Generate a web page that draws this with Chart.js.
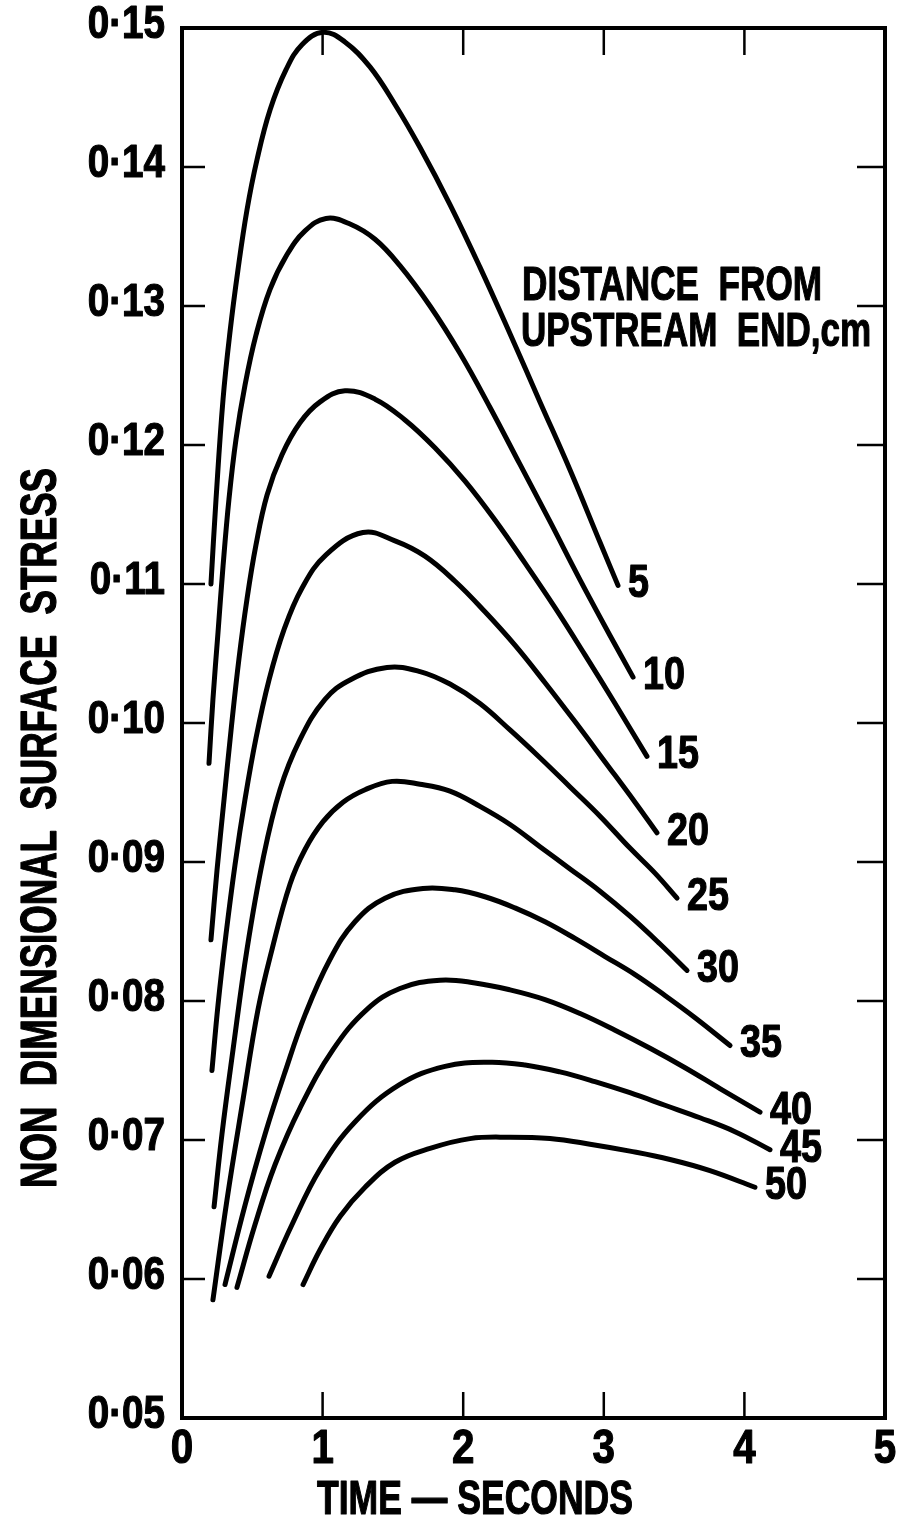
<!DOCTYPE html>
<html>
<head>
<meta charset="UTF-8">
<title>Non dimensional surface stress</title>
<script src="https://cdn.jsdelivr.net/npm/chart.js"></script>
<style>
  html, body { margin: 0; padding: 0; background: #fff; }
  .wrap { position: relative; width: 900px; height: 1520px; }
</style>
</head>
<body>
<div class="wrap"><canvas id="stressChart"></canvas></div>
<script>
// distance from upstream end, cm
const distances = ['5', '10', '15', '20', '25', '30', '35', '40', '45', '50'];

// time (s) and non dimensional surface stress
const time05 = [0.206, 0.242, 0.292, 0.341, 0.398, 0.462, 0.533, 0.626, 0.740, 0.853, 1.003, 1.159, 1.337, 1.515, 1.693, 1.906, 2.119, 2.333, 2.546, 2.760, 2.973, 3.101];
const stress05 = [0.1100, 0.1161, 0.1233, 0.1281, 0.1326, 0.1369, 0.1405, 0.1441, 0.1470, 0.1488, 0.1497, 0.1490, 0.1472, 0.1445, 0.1414, 0.1373, 0.1328, 0.1280, 0.1231, 0.1182, 0.1130, 0.1099];

const time10 = [0.192, 0.220, 0.256, 0.292, 0.334, 0.384, 0.448, 0.526, 0.626, 0.747, 0.875, 1.024, 1.195, 1.373, 1.550, 1.764, 1.977, 2.191, 2.404, 2.617, 2.831, 3.044, 3.208];
const stress10 = [0.0971, 0.1017, 0.1065, 0.1113, 0.1161, 0.1204, 0.1243, 0.1279, 0.1312, 0.1337, 0.1354, 0.1363, 0.1359, 0.1348, 0.1329, 0.1300, 0.1266, 0.1227, 0.1186, 0.1145, 0.1103, 0.1063, 0.1033];

const time15 = [0.206, 0.249, 0.299, 0.349, 0.405, 0.462, 0.526, 0.605, 0.711, 0.839, 0.982, 1.159, 1.373, 1.586, 1.799, 2.013, 2.226, 2.440, 2.653, 2.866, 3.080, 3.307];
const stress15 = [0.0844, 0.0894, 0.0945, 0.0995, 0.1046, 0.1089, 0.1128, 0.1164, 0.1193, 0.1216, 0.1231, 0.1239, 0.1233, 0.1218, 0.1198, 0.1174, 0.1146, 0.1115, 0.1083, 0.1049, 0.1014, 0.0976];

const time20 = [0.213, 0.256, 0.313, 0.377, 0.448, 0.526, 0.619, 0.725, 0.853, 1.024, 1.287, 1.515, 1.728, 1.942, 2.155, 2.368, 2.582, 2.795, 3.009, 3.222, 3.378];
const stress20 = [0.0750, 0.0797, 0.0848, 0.0898, 0.0945, 0.0989, 0.1031, 0.1067, 0.1097, 0.1121, 0.1137, 0.1131, 0.1120, 0.1102, 0.1080, 0.1056, 0.1029, 0.1001, 0.0972, 0.0943, 0.0921];

const time25 = [0.228, 0.284, 0.363, 0.462, 0.576, 0.697, 0.839, 1.017, 1.195, 1.458, 1.693, 1.906, 2.119, 2.333, 2.546, 2.760, 2.973, 3.186, 3.364, 3.521];
const stress25 = [0.0652, 0.0704, 0.0765, 0.0837, 0.0902, 0.0952, 0.0988, 0.1017, 0.1031, 0.1040, 0.1037, 0.1028, 0.1014, 0.0995, 0.0975, 0.0954, 0.0933, 0.0910, 0.0892, 0.0874];

const time30 = [0.220, 0.320, 0.434, 0.541, 0.640, 0.768, 0.875, 1.003, 1.145, 1.302, 1.494, 1.693, 1.906, 2.119, 2.333, 2.546, 2.760, 2.973, 3.186, 3.400, 3.592];
const stress30 = [0.0585, 0.0657, 0.0729, 0.0794, 0.0837, 0.0884, 0.0909, 0.0929, 0.0943, 0.0952, 0.0958, 0.0956, 0.0951, 0.0940, 0.0927, 0.0911, 0.0895, 0.0879, 0.0861, 0.0841, 0.0822];

const time35 = [0.306, 0.448, 0.590, 0.733, 0.875, 1.053, 1.230, 1.444, 1.714, 1.942, 2.155, 2.368, 2.582, 2.795, 3.009, 3.222, 3.435, 3.649, 3.898];
const stress35 = [0.0596, 0.0653, 0.0704, 0.0749, 0.0790, 0.0830, 0.0857, 0.0874, 0.0881, 0.0880, 0.0875, 0.0867, 0.0857, 0.0845, 0.0832, 0.0819, 0.0804, 0.0788, 0.0768];

const time40 = [0.391, 0.519, 0.661, 0.839, 1.074, 1.316, 1.550, 1.835, 2.084, 2.333, 2.582, 2.831, 3.080, 3.329, 3.578, 3.826, 4.111];
const stress40 = [0.0594, 0.0639, 0.0682, 0.0723, 0.0765, 0.0794, 0.0809, 0.0815, 0.0813, 0.0808, 0.0801, 0.0791, 0.0779, 0.0766, 0.0752, 0.0737, 0.0720];

const time45 = [0.619, 0.782, 0.982, 1.230, 1.550, 1.871, 2.191, 2.440, 2.688, 2.937, 3.186, 3.435, 3.684, 3.933, 4.182];
const stress45 = [0.0602, 0.0639, 0.0679, 0.0713, 0.0740, 0.0753, 0.0756, 0.0754, 0.0749, 0.0742, 0.0734, 0.0725, 0.0716, 0.0706, 0.0693];

const time50 = [0.861, 0.982, 1.124, 1.302, 1.515, 1.764, 2.048, 2.333, 2.617, 2.902, 3.186, 3.471, 3.755, 4.075];
const stress50 = [0.0596, 0.0621, 0.0645, 0.0666, 0.0684, 0.0694, 0.0701, 0.0702, 0.0701, 0.0697, 0.0692, 0.0686, 0.0678, 0.0666];

// axes
const xTicks = [0, 1, 2, 3, 4, 5];
const xTickLabels = ['0', '1', '2', '3', '4', '5'];
const yTicks = [0.05, 0.06, 0.07, 0.08, 0.09, 0.10, 0.11, 0.12, 0.13, 0.14, 0.15];
const yTickLabels = ['0·05', '0·06', '0·07', '0·08', '0·09', '0·10', '0·11', '0·12', '0·13', '0·14', '0·15'];

const times = [time05, time10, time15, time20, time25, time30, time35, time40, time45, time50];
const stresses = [stress05, stress10, stress15, stress20, stress25, stress30, stress35, stress40, stress45, stress50];

const LETTERING = '"Liberation Sans", Arial, sans-serif';

const datasets = distances.map((d, i) => ({
  label: d,
  data: times[i].map((t, k) => ({ x: t, y: stresses[i][k] })),
  showLine: true,
  borderColor: '#000',
  borderWidth: 5,
  borderCapStyle: 'round',
  borderJoinStyle: 'round',
  pointRadius: 0,
  tension: 0.4,
  fill: false
}));

// narrow stencil-like lettering: squeeze a bold face horizontally, thicken a little
function letter(ctx, text, x, y, align, squeeze, size) {
  ctx.save();
  ctx.font = 'bold ' + size + 'px ' + LETTERING;
  ctx.textAlign = align;
  ctx.textBaseline = 'alphabetic';
  ctx.translate(x, y);
  ctx.scale(squeeze, 1);
  ctx.lineWidth = 1.2;
  ctx.lineJoin = 'round';
  ctx.fillText(text, 0, 0);
  ctx.strokeText(text, 0, 0);
  ctx.restore();
}

function fitted(ctx, text, x, y, align, width, size) {
  ctx.save();
  ctx.font = 'bold ' + size + 'px ' + LETTERING;
  const w = ctx.measureText(text).width;
  ctx.restore();
  letter(ctx, text, x, y, align, width / w, size);
}

// frame with inward ticks, tick labels, curve labels, titles and note
const drawing = {
  id: 'drawing',
  afterDraw(chart) {
    const { ctx, chartArea: a, scales: { x, y } } = chart;
    ctx.save();
    ctx.strokeStyle = '#000';
    ctx.fillStyle = '#000';
    ctx.lineWidth = 4;
    ctx.strokeRect(a.left, a.top, a.right - a.left, a.bottom - a.top);

    ctx.lineWidth = 2.5;
    ctx.beginPath();
    yTicks.slice(1, -1).forEach(v => {
      const py = y.getPixelForValue(v);
      ctx.moveTo(a.left, py); ctx.lineTo(a.left + 23, py);
      ctx.moveTo(a.right, py); ctx.lineTo(a.right - 28, py);
    });
    xTicks.slice(1, -1).forEach(v => {
      const px = x.getPixelForValue(v);
      ctx.moveTo(px, a.bottom); ctx.lineTo(px, a.bottom - 26);
      ctx.moveTo(px, a.top); ctx.lineTo(px, a.top + 27);
    });
    ctx.stroke();

    yTicks.forEach((v, i) => {
      letter(ctx, yTickLabels[i], a.left - 17, y.getPixelForValue(v) + 10, 'right', 0.84, 46);
    });
    xTicks.forEach((v, i) => {
      letter(ctx, xTickLabels[i], x.getPixelForValue(v), a.bottom + 45, 'center', 0.84, 48);
    });

    chart.data.datasets.forEach((ds, i) => {
      const pts = chart.getDatasetMeta(i).data;
      const end = pts[pts.length - 1];
      letter(ctx, ds.label, end.x + 10, end.y + 12, 'left', 0.82, 46);
    });

    fitted(ctx, 'DISTANCE  FROM', 522, 300, 'left', 300, 48);
    fitted(ctx, 'UPSTREAM  END,cm', 521, 346, 'left', 350, 48);

    fitted(ctx, 'TIME — SECONDS', 475, 1514, 'center', 316, 48);

    ctx.translate(56, 828);
    ctx.rotate(-Math.PI / 2);
    fitted(ctx, 'NON  DIMENSIONAL  SURFACE  STRESS', 0, 0, 'center', 720, 50);
    ctx.restore();
  }
};

new Chart(document.getElementById('stressChart'), {
  type: 'scatter',
  data: { datasets },
  plugins: [drawing],
  options: {
    responsive: true,
    maintainAspectRatio: false,
    animation: false,
    layout: { padding: { top: 28, right: 15, left: 0, bottom: 0 } },
    plugins: { legend: { display: false }, tooltip: { enabled: false } },
    scales: {
      x: {
        type: 'linear',
        min: 0,
        max: 5,
        afterBuildTicks: s => { s.ticks = xTicks.map(v => ({ value: v })); },
        afterFit: s => { s.height = 102; },
        grid: { display: false },
        border: { display: false },
        ticks: { display: false }
      },
      y: {
        type: 'linear',
        min: 0.05,
        max: 0.15,
        afterBuildTicks: s => { s.ticks = yTicks.map(v => ({ value: v })); },
        afterFit: s => { s.width = 182; },
        grid: { display: false },
        border: { display: false },
        ticks: { display: false }
      }
    }
  }
});
</script>
</body>
</html>
